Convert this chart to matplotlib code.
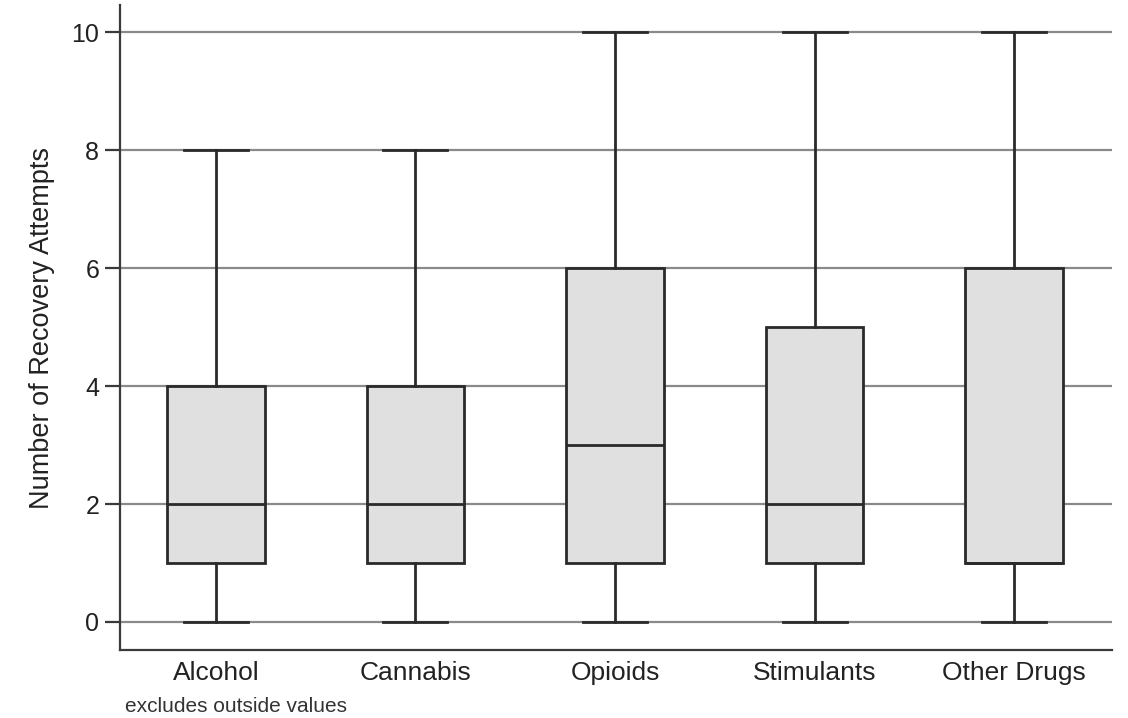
import matplotlib
matplotlib.use("Agg")
import matplotlib.pyplot as plt

plt.rcParams['font.family'] = ['Liberation Sans', 'DejaVu Sans']

categories = ["Alcohol", "Cannabis", "Opioids", "Stimulants", "Other Drugs"]
whisker_low = [0, 0, 0, 0, 0]
q1 = [1, 1, 1, 1, 1]
median = [2, 2, 3, 2, 1]
q3 = [4, 4, 6, 5, 6]
whisker_high = [8, 8, 10, 10, 10]
y_ticks = [0, 2, 4, 6, 8, 10]

stats = [
    dict(label=c, whislo=lo, q1=a, med=m, q3=b, whishi=hi, fliers=[])
    for c, lo, a, m, b, hi in zip(categories, whisker_low, q1, median, q3, whisker_high)
]

fig = plt.figure(figsize=(11.28, 7.18), dpi=100)
ax = fig.add_axes([0.1064, 0.0947, 0.8794, 0.8983])

line_kw = dict(color="#2a2a2a", linewidth=2.0)
ax.bxp(stats, positions=range(1, len(categories) + 1), widths=0.49,
       patch_artist=True, showfliers=False,
       boxprops=dict(facecolor="#e0e0e0", edgecolor="#2a2a2a", linewidth=2.0),
       medianprops=line_kw, whiskerprops=line_kw, capprops=line_kw,
       capwidths=0.32, zorder=3)

ax.set_xlim(0.52, 5.49)
ax.set_ylim(-0.475, 10.46)
ax.set_yticks(y_ticks)
ax.yaxis.grid(True, color="#8a8a8a", linewidth=1.6, zorder=0)
ax.set_axisbelow(True)

for side in ("top", "right"):
    ax.spines[side].set_visible(False)
for side in ("left", "bottom"):
    ax.spines[side].set_linewidth(1.6)
    ax.spines[side].set_color("#3a3a3a")

ax.tick_params(axis="y", length=11, width=1.6, color="#3a3a3a",
               labelsize=18, pad=4, labelcolor="#222222")
ax.tick_params(axis="x", length=0, labelsize=19, pad=8, labelcolor="#222222")
ax.set_ylabel("Number of Recovery Attempts", fontsize=19.5, color="#222222", labelpad=12)

fig.text(125 / 1128, 1 - 706 / 718, "excludes outside values", fontsize=15,
         color="#333333", va="center", ha="left")

fig.savefig("out.png", dpi=100, facecolor="white")
